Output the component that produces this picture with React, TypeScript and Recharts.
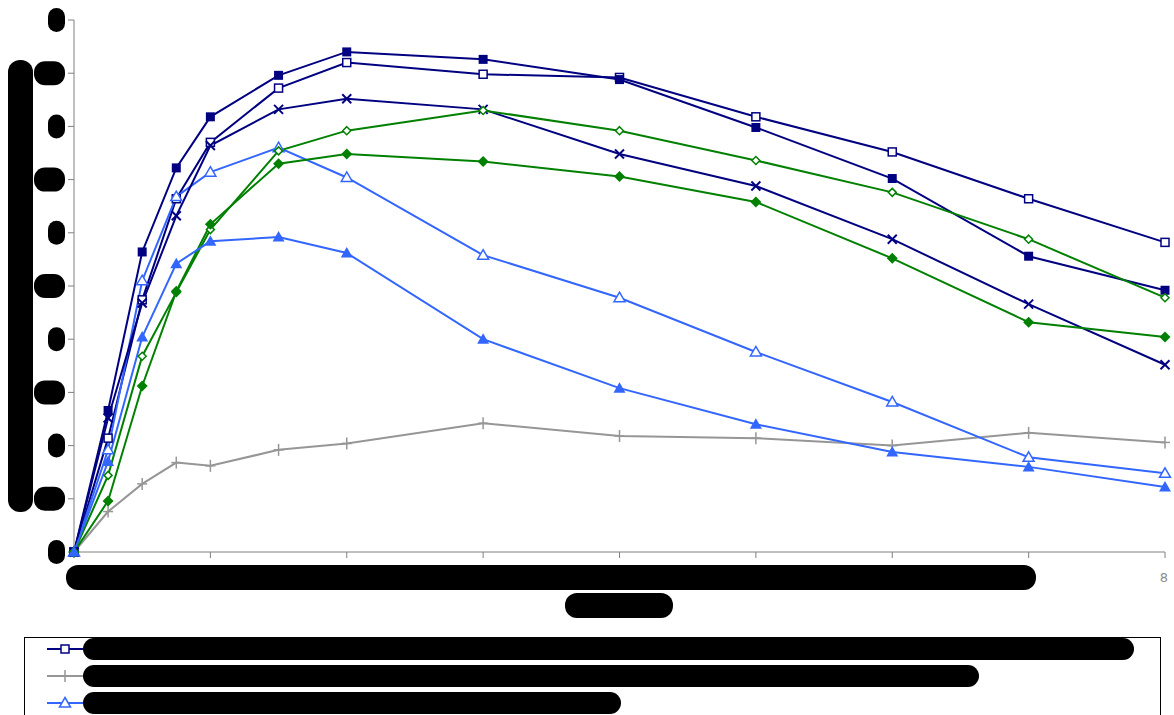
import { LineChart, Line, XAxis, YAxis, Legend } from 'recharts'

// x positions (hours) shared by every series
const X_VALUES = [0, 0.25, 0.5, 0.75, 1, 1.5, 2, 3, 4, 5, 6, 7, 8]

const OPEN_SQUARE = [0, 1.07, 2.37, 3.32, 3.85, 4.36, 4.6, 4.49, 4.46, 4.09, 3.76, 3.32, 2.91]
const PLUS = [0, 0.38, 0.64, 0.84, 0.81, 0.96, 1.02, 1.21, 1.09, 1.07, 1.0, 1.12, 1.03]
const OPEN_TRIANGLE = [0, 0.96, 2.55, 3.34, 3.57, 3.8, 3.52, 2.79, 2.39, 1.88, 1.41, 0.89, 0.74]
const FILLED_SQUARE = [0, 1.33, 2.82, 3.61, 4.09, 4.48, 4.7, 4.63, 4.44, 3.99, 3.51, 2.78, 2.46]
const CROSS = [0, 1.26, 2.34, 3.16, 3.82, 4.16, 4.26, 4.16, 3.74, 3.44, 2.94, 2.33, 1.76]
const OPEN_DIAMOND = [0, 0.72, 1.84, 2.44, 3.03, 3.77, 3.96, 4.15, 3.96, 3.68, 3.38, 2.94, 2.39]
const FILLED_DIAMOND = [0, 0.48, 1.56, 2.45, 3.08, 3.65, 3.74, 3.67, 3.53, 3.29, 2.76, 2.16, 2.02]
const FILLED_TRIANGLE = [0, 0.85, 2.02, 2.71, 2.92, 2.96, 2.81, 2.0, 1.54, 1.2, 0.94, 0.8, 0.61]

const X_TICKS = [0, 1, 2, 3, 4, 5, 6, 7, 8]
const Y_TICKS = [0, 0.5, 1, 1.5, 2, 2.5, 3, 3.5, 4, 4.5, 5]

const NAVY = '#000080'
const GREEN = '#008000'
const BLUE = '#3366ff'
const GRAY = '#969696'

type Shape = 'sq' | 'sqOpen' | 'x' | 'dia' | 'diaOpen' | 'tri' | 'triOpen' | 'plus'

// legend only shows the rows that fit in the frame (first three)
const SERIES: { key: string; name: string; color: string; shape: Shape; values: number[]; blob: number; inLegend: boolean }[] = [
  { key: 'openSquare', name: 'Serie A', color: NAVY, shape: 'sqOpen', values: OPEN_SQUARE, blob: 1051, inLegend: true },
  { key: 'plus', name: 'Serie B', color: GRAY, shape: 'plus', values: PLUS, blob: 896, inLegend: true },
  { key: 'openTriangle', name: 'Serie C', color: BLUE, shape: 'triOpen', values: OPEN_TRIANGLE, blob: 538, inLegend: true },
  { key: 'filledSquare', name: 'Serie D', color: NAVY, shape: 'sq', values: FILLED_SQUARE, blob: 900, inLegend: false },
  { key: 'cross', name: 'Serie E', color: NAVY, shape: 'x', values: CROSS, blob: 700, inLegend: false },
  { key: 'openDiamond', name: 'Serie F', color: GREEN, shape: 'diaOpen', values: OPEN_DIAMOND, blob: 800, inLegend: false },
  { key: 'filledDiamond', name: 'Serie G', color: GREEN, shape: 'dia', values: FILLED_DIAMOND, blob: 650, inLegend: false },
  { key: 'filledTriangle', name: 'Serie H', color: BLUE, shape: 'tri', values: FILLED_TRIANGLE, blob: 600, inLegend: false },
]

const data = X_VALUES.map((x, i) => {
  const row: Record<string, number> = { x }
  SERIES.forEach((s) => { row[s.key] = s.values[i] })
  return row
})

function Marker({ shape, cx, cy, color }: { shape: Shape; cx: number; cy: number; color: string }) {
  switch (shape) {
    case 'sq':
      return <rect x={cx - 4.5} y={cy - 4.5} width={9} height={9} fill={color} />
    case 'sqOpen':
      return <rect x={cx - 4} y={cy - 4} width={8} height={8} fill="#fff" stroke={color} strokeWidth={1.5} />
    case 'x':
      return (
        <g stroke={color} strokeWidth={2}>
          <line x1={cx - 4.5} y1={cy - 4.5} x2={cx + 4.5} y2={cy + 4.5} />
          <line x1={cx - 4.5} y1={cy + 4.5} x2={cx + 4.5} y2={cy - 4.5} />
        </g>
      )
    case 'dia':
      return <polygon points={`${cx},${cy - 5.5} ${cx + 5.5},${cy} ${cx},${cy + 5.5} ${cx - 5.5},${cy}`} fill={color} />
    case 'diaOpen':
      return <polygon points={`${cx},${cy - 4} ${cx + 4},${cy} ${cx},${cy + 4} ${cx - 4},${cy}`} fill="#fff" stroke={color} strokeWidth={1.5} />
    case 'tri':
      return <polygon points={`${cx},${cy - 6} ${cx + 6},${cy + 4.5} ${cx - 6},${cy + 4.5}`} fill={color} />
    case 'triOpen':
      return <polygon points={`${cx},${cy - 5.5} ${cx + 5.5},${cy + 4} ${cx - 5.5},${cy + 4}`} fill="#fff" stroke={color} strokeWidth={1.5} />
    case 'plus':
      return (
        <g stroke={color} strokeWidth={1.5}>
          <line x1={cx - 5} y1={cy} x2={cx + 5} y2={cy} />
          <line x1={cx} y1={cy - 6} x2={cx} y2={cy + 6} />
        </g>
      )
  }
}

function YTick({ x, y, payload }: any) {
  const label = String(payload.value).replace('.', ',')
  const w = label.length > 1 ? 31 : 17
  return (
    <g>
      <rect x={x - 1 - w} y={y - 12} width={w} height={24} rx={w / 2 > 11 ? 11 : w / 2} fill="#000" />
      <text x={x - 2} y={y + 4} textAnchor="end" fontSize={12} fill="#000">{label}</text>
    </g>
  )
}

function XTick({ x, y, payload }: any) {
  if (payload.value === 8) {
    return (
      <text x={x - 1} y={y + 22} textAnchor="middle" fontSize={13} fontFamily="DejaVu Sans, sans-serif" fill="#8c8c8c">8</text>
    )
  }
  return (
    <g>
      {payload.value === 0 && <rect x={x - 8} y={y + 5} width={970} height={25} rx={12} fill="#000" />}
      <text x={x} y={y + 22} textAnchor="middle" fontSize={12} fill="#000">{payload.value}</text>
    </g>
  )
}

function YTitle({ viewBox }: any) {
  const { x, y } = viewBox
  return (
    <g>
      <rect x={x + 8} y={y + 40} width={25} height={452} rx={12} fill="#000" />
      <text x={x + 20} y={y + 266} textAnchor="middle" fontSize={12} fill="#000" transform={`rotate(-90 ${x + 20} ${y + 266})`}>Wert</text>
    </g>
  )
}

function XTitle({ viewBox }: any) {
  const { x, y } = viewBox
  return (
    <g>
      <rect x={x + 491} y={y + 41} width={108} height={25} rx={12} fill="#000" />
      <text x={x + 545} y={y + 58} textAnchor="middle" fontSize={12} fill="#000">Zeit</text>
    </g>
  )
}

function LegendBox() {
  return (
    <div style={{ border: '1px solid #000', borderBottom: 'none', width: 1137, height: 78, boxSizing: 'border-box', background: '#fff' }}>
      {SERIES.filter((s) => s.inLegend).map((s) => (
        <div key={s.key} style={{ display: 'flex', alignItems: 'center', height: 22, marginBottom: 5 }}>
          <svg width={36} height={16} style={{ marginLeft: 22 }}>
            <line x1={0} y1={8} x2={36} y2={8} stroke={s.color} strokeWidth={2} />
            <Marker shape={s.shape} cx={18} cy={8} color={s.color} />
          </svg>
          <div style={{ width: s.blob, height: 22, borderRadius: 11, background: '#000', color: '#000', fontSize: 11, lineHeight: '22px', paddingLeft: 10, boxSizing: 'border-box' }}>
            {s.name}
          </div>
        </div>
      ))}
    </div>
  )
}

export default function App() {
  return (
    <div style={{ position: 'fixed', left: 0, top: 0, width: 1174, height: 715, overflow: 'hidden', background: '#fff', fontFamily: 'Liberation Sans, Arial, sans-serif' }}>
      <LineChart width={1174} height={715} data={data} margin={{ top: 20, right: 9, left: 0, bottom: 123 }}>
        <XAxis
          dataKey="x"
          type="number"
          domain={[0, 8]}
          ticks={X_TICKS}
          interval={0}
          stroke="#808080"
          tickSize={6}
          tickMargin={2}
          height={40}
          tick={<XTick />}
          label={<XTitle />}
        />
        <YAxis
          type="number"
          domain={[0, 5]}
          ticks={Y_TICKS}
          interval={0}
          stroke="#808080"
          tickSize={6}
          tickMargin={2}
          width={74}
          tick={<YTick />}
          label={<YTitle />}
        />
        <Legend
          layout="vertical"
          verticalAlign="middle"
          align="center"
          wrapperStyle={{ top: 637, left: 24, width: 1137, height: 78 }}
          content={() => <LegendBox />}
        />
        {SERIES.map((s) => (
          <Line
            key={s.key}
            dataKey={s.key}
            name={s.name}
            stroke={s.color}
            strokeWidth={2}
            isAnimationActive={false}
            dot={(p: any) => <Marker key={`${s.key}-${p.index}`} shape={s.shape} cx={p.cx} cy={p.cy} color={s.color} />}
            activeDot={false}
          />
        ))}
      </LineChart>
    </div>
  )
}
